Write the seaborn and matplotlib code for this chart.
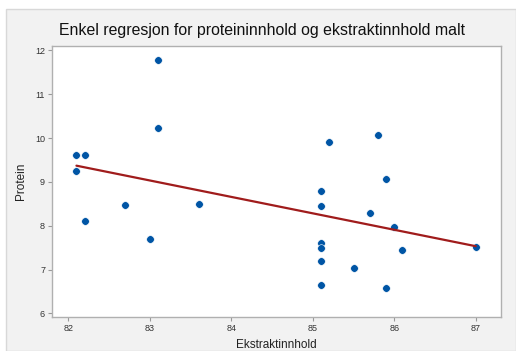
import matplotlib
matplotlib.use("Agg")
import matplotlib.pyplot as plt
import seaborn as sns
import pandas as pd
from matplotlib.patches import Rectangle

ekstrakt = [82.1, 82.2, 82.1, 82.2, 82.7, 83.0, 83.1, 83.1, 83.6,
            85.2, 85.8, 85.9, 85.1, 85.1, 85.7, 86.0, 85.1, 85.1,
            86.1, 87.0, 85.1, 85.5, 85.1, 85.9]
protein = [9.61, 9.61, 9.25, 8.11, 8.48, 7.71, 11.79, 10.22, 8.49,
           9.90, 10.07, 9.07, 8.80, 8.45, 8.29, 7.98, 7.61, 7.50,
           7.45, 7.52, 7.20, 7.04, 6.66, 6.58]
xticks = [82, 83, 84, 85, 86, 87]
yticks = [6, 7, 8, 9, 10, 11, 12]

df = pd.DataFrame({"Ekstraktinnhold": ekstrakt, "Protein": protein})

sns.set_theme(style="white")
plt.rcParams['font.family'] = ['Liberation Sans', 'DejaVu Sans']

fig = plt.figure(figsize=(5.16, 3.51), dpi=100)
fig.patch.set_facecolor("white")
W, H = 516, 351
bg = Rectangle((6 / W, 0), 1 - 6 / W, 1 - 9 / H, transform=fig.transFigure,
               facecolor="#f2f2f2", edgecolor="#d8d8d8", linewidth=1.0, zorder=-10)
fig.add_artist(bg)

ax = fig.add_axes([52 / W, 1 - 317 / H, (501 - 52) / W, (317 - 46) / H])
ax.set_zorder(5)
ax.set_facecolor("white")
sns.regplot(data=df, x="Ekstraktinnhold", y="Protein", ax=ax, ci=None,
            scatter_kws=dict(s=30, color="#0055a5", edgecolor="white", linewidths=0.4, alpha=1),
            line_kws=dict(color="#a01c1c", linewidth=1.6))

ax.set_xlim(81.80, 87.31)
ax.set_ylim(5.92, 12.1)
ax.set_xticks(xticks)
ax.set_yticks(yticks)
ax.tick_params(axis="both", labelsize=6.5, colors="#333333", length=3, width=0.8,
               direction="out", pad=2, bottom=True, left=True)
for s in ax.spines.values():
    s.set_color("#b0b0b0")
    s.set_linewidth(1.0)
ax.tick_params(axis="both", color="#999999")
ax.set_xlabel("Ekstraktinnhold", fontsize=8.5, color="#222222", labelpad=4)
ax.set_ylabel("Protein", fontsize=8.5, color="#222222", labelpad=6)
fig.text(262 / W, 1 - 30 / H, "Enkel regresjon for proteininnhold og ekstraktinnhold malt",
         fontsize=11.4, color="#111111", ha="center", va="center")

fig.savefig("out.png", dpi=100)
